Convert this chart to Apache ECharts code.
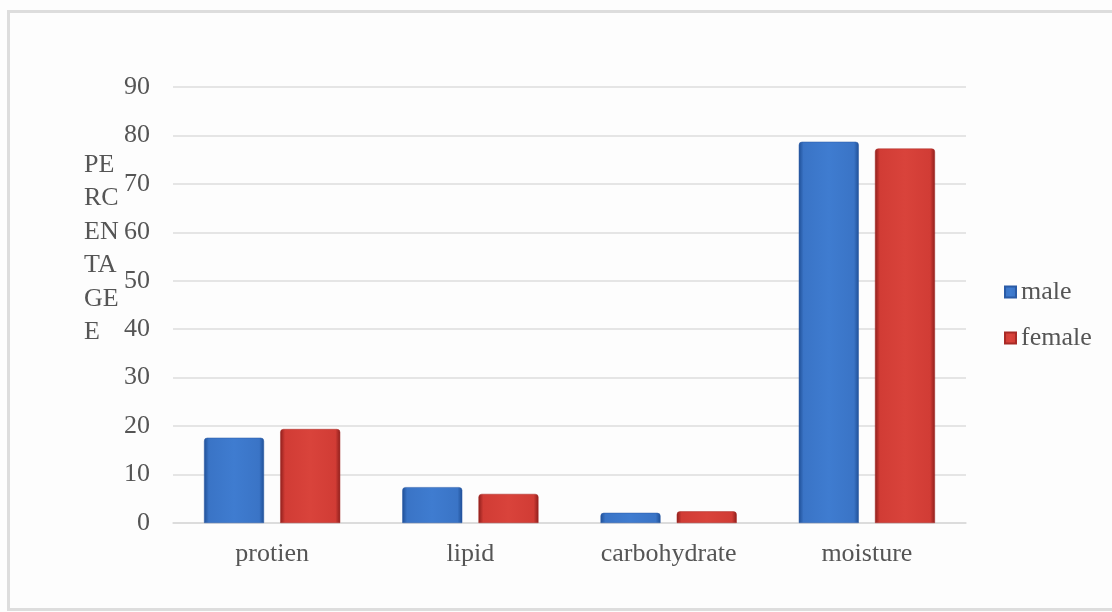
<!DOCTYPE html>
<html>
<head>
<meta charset="utf-8">
<script src="https://cdn.jsdelivr.net/npm/echarts@6/dist/echarts.min.js"></script>
<style>
html,body{margin:0;padding:0;background:#fff;}
#c{width:1112px;height:612px;}
</style>
</head>
<body>
<div id="c"></div>
<script>
const categories = ['protien', 'lipid', 'carbohydrate', 'moisture'];
const maleValues = [17.6, 7.4, 2.1, 78.7];
const femaleValues = [19.4, 6.0, 2.4, 77.3];
const seriesNames = ['male', 'female'];
const yTicks = [0, 10, 20, 30, 40, 50, 60, 70, 80, 90];

function grad(edge, mid, light) {
  return new echarts.graphic.LinearGradient(0, 0, 1, 0, [
    {offset: 0, color: edge},
    {offset: 0.08, color: mid},
    {offset: 0.5, color: light},
    {offset: 0.92, color: mid},
    {offset: 1, color: edge}
  ]);
}

const chart = echarts.init(document.getElementById('c'));
const font = '"Liberation Serif", "DejaVu Serif", serif';
const fs = 26;
chart.setOption({
  backgroundColor: '#fdfdfd',
  animation: false,
  textStyle: {fontFamily: font},
  grid: {left: 173, right: 146, top: 87, bottom: 89, containLabel: false},
  legend: {
    orient: 'vertical',
    left: 999, top: 274,
    itemWidth: 11, itemHeight: 11, itemGap: 20,
    icon: 'rect',
    data: seriesNames,
    textStyle: {fontFamily: font, fontSize: fs, color: '#555', padding: [0,0,0,0]}
  },
  xAxis: {
    type: 'category',
    data: categories,
    axisLine: {show: true, lineStyle: {color: '#d9d9d9', width: 1.5}},
    axisTick: {show: false},
    axisLabel: {fontFamily: font, fontSize: fs, color: '#555', margin: 18}
  },
  yAxis: {
    type: 'value',
    min: yTicks[0], max: yTicks[yTicks.length - 1], interval: 10,
    axisLine: {show: false},
    axisTick: {show: false},
    splitLine: {lineStyle: {color: '#dcdcdc', width: 1.5}},
    axisLabel: {fontFamily: font, fontSize: fs, color: '#555', margin: 23}
  },
  graphic: [
    {
      type: 'rect', left: 6, top: 9, z: -1, silent: true,
      shape: {width: 1120, height: 598},
      style: {fill: 'none', stroke: '#dddddd', lineWidth: 3}
    },
    {
      type: 'text', left: 84, top: 148, silent: true,
      style: {text: 'PE\nRC\nEN\nTA\nGE\nE', fontFamily: font, fontSize: fs, lineHeight: 33.5, fill: '#555'}
    }
  ],
  series: [
    {
      name: seriesNames[0], type: 'bar', data: maleValues,
      barWidth: 60, barGap: '27%',
      itemStyle: {color: grad('#1f4f96', '#3a74c6', '#3f7cd0'), borderColor: '#2a5ba6', borderWidth: 0.5, borderRadius: [3,3,0,0]}
    },
    {
      name: seriesNames[1], type: 'bar', data: femaleValues,
      barWidth: 60, barGap: '27%',
      itemStyle: {color: grad('#8e1f1c', '#d13c35', '#d9433b'), borderColor: '#a82a26', borderWidth: 0.5, borderRadius: [3,3,0,0]}
    }
  ]
});
</script>
</body>
</html>
